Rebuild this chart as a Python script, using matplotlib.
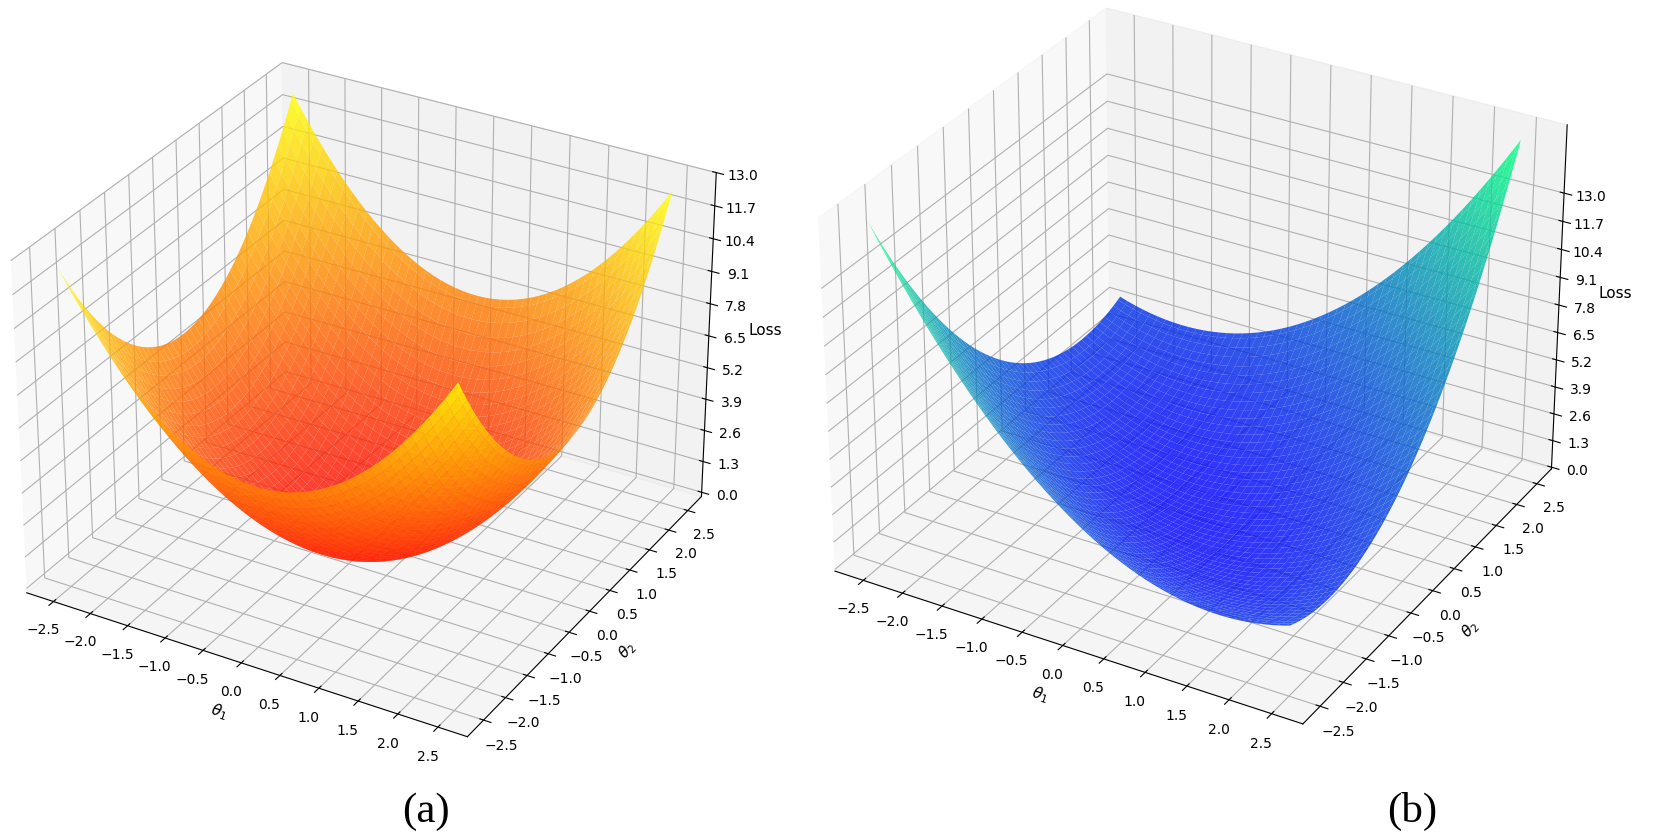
import matplotlib
matplotlib.use("Agg")
import matplotlib.pyplot as plt
import numpy as np

# parameter grid (theta1, theta2)
THETA_MIN = -2.5
THETA_MAX = 2.5
N_GRID = 100

# ticks
theta_ticks = [-2.5, -2.0, -1.5, -1.0, -0.5, 0.0, 0.5, 1.0, 1.5, 2.0, 2.5]
loss_ticks = [0.0, 1.3, 2.6, 3.9, 5.2, 6.5, 7.8, 9.1, 10.4, 11.7, 13.0]

# quadratic loss coefficients: L = a*t1^2 + b*t2^2 + c*t1*t2
coef_a = {"a": 1.0, "b": 1.0, "c": 0.0}      # round bowl
coef_b = {"a": 0.755, "b": 0.755, "c": 1.0}  # tilted valley

zlim_a = (-0.18, 13.0)
zlim_b = (-0.08, 16.1)

panel_labels = ['(a)', '(b)']


def loss(t1, t2, k):
    return k["a"] * t1 ** 2 + k["b"] * t2 ** 2 + k["c"] * t1 * t2


def draw(ax, k, cmap, zlim):
    t = np.linspace(THETA_MIN, THETA_MAX, N_GRID)
    T1, T2 = np.meshgrid(t, t)
    L = loss(T1, T2, k)
    ax.plot_surface(T1, T2, L, cmap=cmap, alpha=0.8)
    ax.set_xticks(theta_ticks)
    ax.set_yticks(theta_ticks)
    ax.set_zticks(loss_ticks)
    ax.set_zlim(*zlim)
    ax.set_xlabel(r'$\theta_1$', fontsize=11)
    ax.set_ylabel(r'$\theta_2$', fontsize=11)
    ax.set_zlabel('Loss', fontsize=11)
    ax.tick_params(labelsize=10)
    # keep the neighbouring panel's labels visible
    ax.patch.set_visible(False)


fig = plt.figure(figsize=(16.54, 8.38), dpi=100)

ax1 = fig.add_axes([-0.0425, 0.0618, 0.52, 0.936], projection='3d')
draw(ax1, coef_a, 'autumn', zlim_a)

ax2 = fig.add_axes([0.4486, 0.0734, 0.54, 0.994], projection='3d')
draw(ax2, coef_b, 'winter', zlim_b)

fig.text(0.2576, 0.0195, panel_labels[0], fontsize=31, family='Liberation Serif', ha='center')
fig.text(0.8537, 0.0195, panel_labels[1], fontsize=31, family='Liberation Serif', ha='center')

fig.savefig('out.png', dpi=100)
